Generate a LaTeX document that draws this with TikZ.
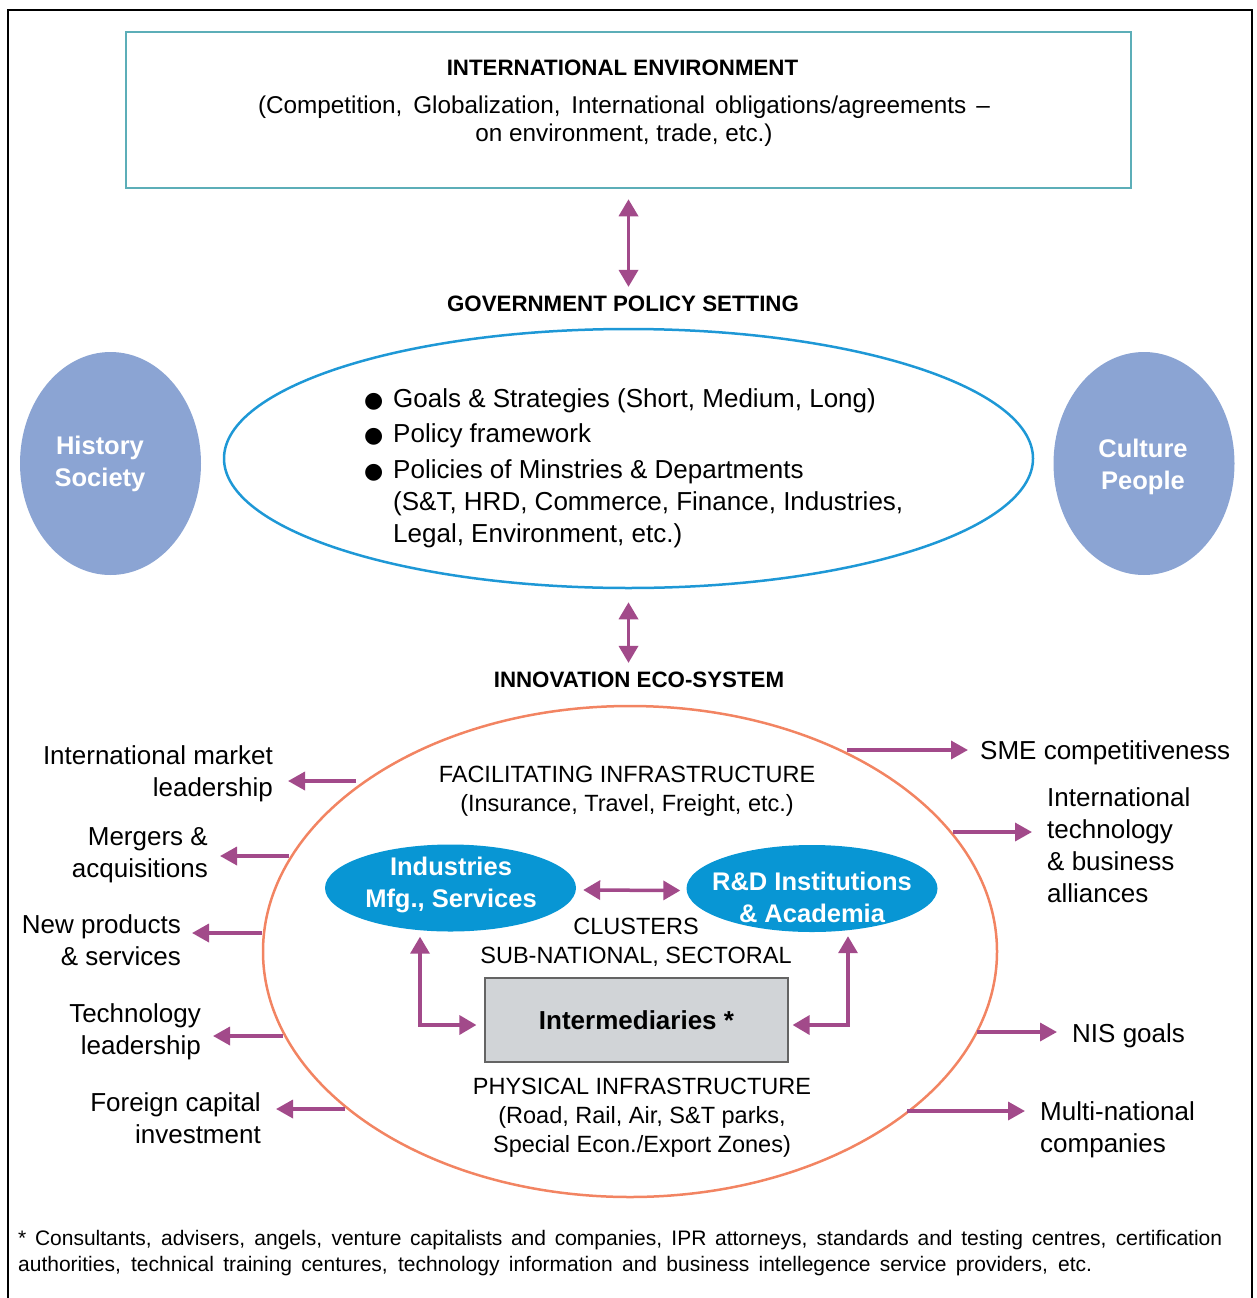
\documentclass[tikz,border=0pt]{standalone}
\usepackage{fontspec}
\setmainfont{Liberation Sans}
\newfontfamily\symfont{DejaVu Sans}
\usetikzlibrary{arrows.meta,shapes.geometric,calc}

\definecolor{envline}{RGB}{92,174,184}
\definecolor{govline}{RGB}{30,152,214}
\definecolor{sidefill}{RGB}{139,164,211}
\definecolor{ecoline}{RGB}{242,132,98}
\definecolor{clusterfill}{RGB}{8,150,212}
\definecolor{linkc}{RGB}{162,74,138}
\definecolor{boxfill}{RGB}{209,212,215}
\definecolor{boxline}{RGB}{100,100,100}

\tikzset{
  txt/.style={inner sep=0pt, align=center, font=\fontsize{23.5}{29}\selectfont},
  lbl/.style={inner sep=0pt, font=\fontsize{26}{32}\selectfont},
  head/.style={inner sep=0pt, font=\bfseries\fontsize{22.3}{28}\selectfont},
  whitetxt/.style={inner sep=0pt, text=white, align=center, font=\bfseries\fontsize{25.5}{32}\selectfont},
  onearrow/.style={draw=linkc, line width=3.5pt, -{Triangle[length=17pt,width=18pt]}},
  twoarrow/.style={draw=linkc, line width=3.5pt, {Triangle[length=17pt,width=19pt]}-{Triangle[length=17pt,width=19pt]}},
  sideoval/.style={ellipse, fill=sidefill, inner sep=0pt, minimum width=181pt, minimum height=223pt},
  cluster/.style={ellipse, fill=clusterfill, inner sep=0pt, minimum width=251pt, minimum height=87pt}
}

\begin{document}
\begin{tikzpicture}[x=1pt,y=-1pt]
\useasboundingbox (0,0) rectangle (1256,1298);

% outer frame (open at the bottom edge of the page)
\draw[line width=2.5pt] (8,1305) -- (8,10) -- (1252,10) -- (1252,1305);

% international environment
\node[draw=envline, line width=2.5pt, inner sep=0pt, minimum width=1005pt, minimum height=156pt] (ie) at (628.5,110) {};
\node[head] (ie-t) at (622.5,68) {INTERNATIONAL ENVIRONMENT};
\node[txt, font=\fontsize{24.3}{28}\selectfont] (ie-x) at (624,121)
  {\makebox[732pt][s]{(Competition, Globalization, International obligations/agreements --}\\on environment, trade, etc.)};

% government policy setting
\node[head] (govt) at (623,304) {GOVERNMENT POLICY SETTING};
\node[ellipse, draw=govline, line width=2.5pt, inner sep=0pt, minimum width=809pt, minimum height=259pt] (gp) at (628.5,458.5) {};
\node[lbl, anchor=west, align=left] (gp-list) at (364,468)
  {\makebox[29pt][l]{\symfont\fontsize{22}{22}\selectfont ●}Goals \& Strategies (Short, Medium, Long)\\[3pt]
   \makebox[29pt][l]{\symfont\fontsize{22}{22}\selectfont ●}Policy framework\\[4pt]
   \makebox[29pt][l]{\symfont\fontsize{22}{22}\selectfont ●}Policies of Minstries \& Departments\\
   \hspace*{29pt}(S\&T, HRD, Commerce, Finance, Industries,\\
   \hspace*{29pt}Legal, Environment, etc.)};

\draw[twoarrow, shorten >=9pt] ([yshift=-10pt]ie.south) -- (ie.south |- govt.north);

% history / culture
\node[sideoval] (hs) at (110.5,463.5) {};
\node[whitetxt] (hs-t) at (100,464) {History\\Society};
\node[sideoval] (cp) at (1144,463.5) {};
\node[whitetxt] (cp-t) at (1143,467) {Culture\\People};

% innovation eco-system
\node[head] (ecot) at (639,680) {INNOVATION ECO-SYSTEM};
\draw[twoarrow, shorten >=9pt] ([yshift=-13pt]gp.south) -- (gp.south |- ecot.north);
\node[ellipse, draw=ecoline, line width=2.5pt, inner sep=0pt, minimum width=734pt, minimum height=491pt] (eco) at (630,951.5) {};

\node[txt] (fac) at (627,791) {FACILITATING INFRASTRUCTURE\\(Insurance, Travel, Freight, etc.)};
\node[cluster] (ind) at (450.5,888) {};
\node[whitetxt] (ind-t) at (451,885) {Industries\\Mfg., Services};
\node[cluster] (rd) at (812,888.5) {};
\node[whitetxt] (rd-t) at (812,897) {R\&D Institutions\\\& Academia};
\node[txt] (clu) at (636,942) {CLUSTERS\\SUB-NATIONAL, SECTORAL};
\node[draw=boxline, line width=1.2pt, fill=boxfill, inner sep=0pt, minimum width=303pt, minimum height=84pt,
  font=\bfseries\fontsize{26}{32}\selectfont] (im) at (636.5,1020) {Intermediaries *};
\node[txt] (phy) at (642,1118) {PHYSICAL INFRASTRUCTURE\\(Road, Rail, Air, S\&T parks,\\Special Econ./Export Zones)};

\draw[twoarrow] ([xshift=7pt,yshift=-2pt]ind.east) -- ([xshift=-6pt,yshift=-2pt]rd.west);
\draw[twoarrow] ([xshift=-30.5pt,yshift=-5pt]ind.south) |- ([xshift=-8pt,yshift=-5pt]im.west);
\draw[twoarrow] ([xshift=36pt,yshift=-4pt]rd.south) |- ([xshift=4pt,yshift=-5pt]im.east);

% outcomes on the left
\node[lbl, anchor=east, align=right] (o1) at (273,774) {International market\\leadership};
\node[lbl, anchor=east, align=right] (o2) at (208,855) {Mergers \&\\acquisitions};
\node[lbl, anchor=east, align=right] (o3) at (181,940) {New products\\\& services};
\node[lbl, anchor=east, align=right] (o4) at (201,1032) {Technology\\leadership};
\node[lbl, anchor=east, align=right] (o5) at (261,1118) {Foreign capital\\investment};
\coordinate (s1) at (356,781);
\coordinate (s2) at (289,856);
\coordinate (s3) at (262,933);
\coordinate (s4) at (283,1036);
\coordinate (s5) at (345,1109);
\draw[onearrow, shorten >=15pt] (s1) -- (s1 -| o1.east);
\draw[onearrow, shorten >=12pt] (s2) -- (s2 -| o2.east);
\draw[onearrow, shorten >=11pt] (s3) -- (s3 -| o3.east);
\draw[onearrow, shorten >=12pt] (s4) -- (s4 -| o4.east);
\draw[onearrow, shorten >=15pt] (s5) -- (s5 -| o5.east);

% outcomes on the right
\node[lbl, anchor=west] (p1) at (980,753) {SME competitiveness};
\node[lbl, anchor=west, align=left] (p2) at (1047,845) {International\\technology\\\& business\\alliances};
\node[lbl, anchor=west] (p3) at (1072,1036) {NIS goals};
\node[lbl, anchor=west, align=left] (p4) at (1040,1130) {Multi-national\\companies};
\coordinate (t1) at (847,750);
\coordinate (t2) at (953,832);
\coordinate (t3) at (977,1032);
\coordinate (t4) at (907,1111);
\draw[onearrow, shorten >=12pt] (t1) -- (t1 -| p1.west);
\draw[onearrow, shorten >=15pt] (t2) -- (t2 -| p2.west);
\draw[onearrow, shorten >=15pt] (t3) -- (t3 -| p3.west);
\draw[onearrow, shorten >=15pt] (t4) -- (t4 -| p4.west);

% footnote
\node[anchor=base west, inner sep=0pt, font=\fontsize{21}{26}\selectfont] (fn1) at (18,1245)
  {\makebox[1204pt][s]{* Consultants, advisers, angels, venture capitalists and companies, IPR attorneys, standards and testing centres, certification}};
\node[anchor=base west, inner sep=0pt, font=\fontsize{21}{26}\selectfont] (fn2) at (18,1271)
  {\makebox[1074pt][s]{authorities, technical training centures, technology information and business intellegence service providers, etc.}};
\end{tikzpicture}
\end{document}
